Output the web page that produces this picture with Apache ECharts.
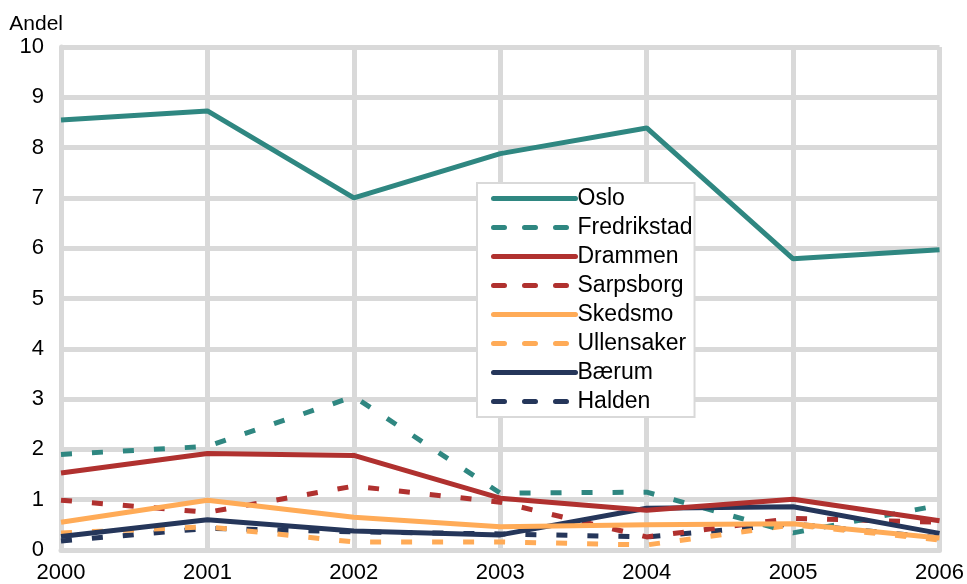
<!DOCTYPE html>
<html>
<head>
<meta charset="utf-8">
<script src="https://cdn.jsdelivr.net/npm/echarts@6/dist/echarts.min.js"></script>
<style>
  html, body { margin: 0; padding: 0; background: #fff; }
  #chart { width: 967px; height: 584px; }
</style>
</head>
<body>
<div id="chart"></div>
<script>
// år på x-aksen
const years = ['2000', '2001', '2002', '2003', '2004', '2005', '2006'];

// andel per kommune
const oslo        = [8.55, 8.73, 7.00, 7.88, 8.39, 5.79, 5.97];
const fredrikstad = [1.90, 2.06, 3.05, 1.13, 1.15, 0.34, 0.89];
const drammen     = [1.53, 1.92, 1.88, 1.03, 0.79, 1.01, 0.58];
const sarpsborg   = [0.99, 0.75, 1.27, 0.95, 0.26, 0.63, 0.55];
const skedsmo     = [0.55, 0.99, 0.65, 0.46, 0.50, 0.52, 0.24];
const ullensaker  = [0.34, 0.46, 0.16, 0.16, 0.10, 0.50, 0.20];
const baerum      = [0.27, 0.60, 0.38, 0.30, 0.83, 0.86, 0.33];
const halden      = [0.18, 0.43, 0.36, 0.32, 0.26, 0.52, 0.24];

const teal = '#2f8781';
const red = '#b0312f';
const orange = '#ffab57';
const navy = '#25365a';
const gridGrey = '#d9d9d9';

// hjelper for én linjeserie
function line(name, data, color, dashed) {
    return {
        name: name,
        type: 'line',
        data: data,
        symbol: 'none',
        color: color,
        lineStyle: {
            color: color,
            width: 5,
            type: dashed ? [11, 20] : 'solid'
        }
    };
}

const chart = echarts.init(document.getElementById('chart'));
chart.setOption({
    animation: false,
    textStyle: { fontFamily: 'Liberation Sans, Arial, sans-serif' },
    grid: { left: 61, right: 26, top: 47, bottom: 34 },
    legend: {
        orient: 'vertical',
        left: 477,
        top: 183,
        padding: [4, 2, 4, 14],
        itemGap: 6,
        itemWidth: 82,
        itemHeight: 22,
        backgroundColor: '#fff',
        borderColor: gridGrey,
        borderWidth: 2,
        borderRadius: 0,
        itemStyle: { opacity: 0 },
        lineStyle: { width: 5, cap: 'round' },
        textStyle: { fontSize: 23, color: '#000', padding: [0, 0, 0, -3] },
        data: ['Oslo', 'Fredrikstad', 'Drammen', 'Sarpsborg', 'Skedsmo', 'Ullensaker', 'Bærum', 'Halden']
    },
    xAxis: {
        type: 'category',
        data: years,
        boundaryGap: false,
        axisLine: { lineStyle: { color: gridGrey, width: 5 } },
        axisTick: { show: false },
        axisLabel: { color: '#000', fontSize: 22, margin: 12 },
        splitLine: { show: true, lineStyle: { color: gridGrey, width: 5 } }
    },
    yAxis: {
        type: 'value',
        min: 0,
        max: 10,
        interval: 1,
        name: 'Andel',
        nameGap: 12,
        nameTextStyle: { color: '#000', fontSize: 21, align: 'right', padding: [0, -2, 0, 0] },
        axisLine: { show: true, lineStyle: { color: gridGrey, width: 5 } },
        axisTick: { show: false },
        axisLabel: { color: '#000', fontSize: 22, margin: 17 },
        splitLine: { lineStyle: { color: gridGrey, width: 5 } }
    },
    series: [
        line('Halden', halden, navy, true),
        line('Ullensaker', ullensaker, orange, true),
        line('Sarpsborg', sarpsborg, red, true),
        line('Fredrikstad', fredrikstad, teal, true),
        line('Bærum', baerum, navy, false),
        line('Skedsmo', skedsmo, orange, false),
        line('Drammen', drammen, red, false),
        line('Oslo', oslo, teal, false)
    ]
});
</script>
</body>
</html>
